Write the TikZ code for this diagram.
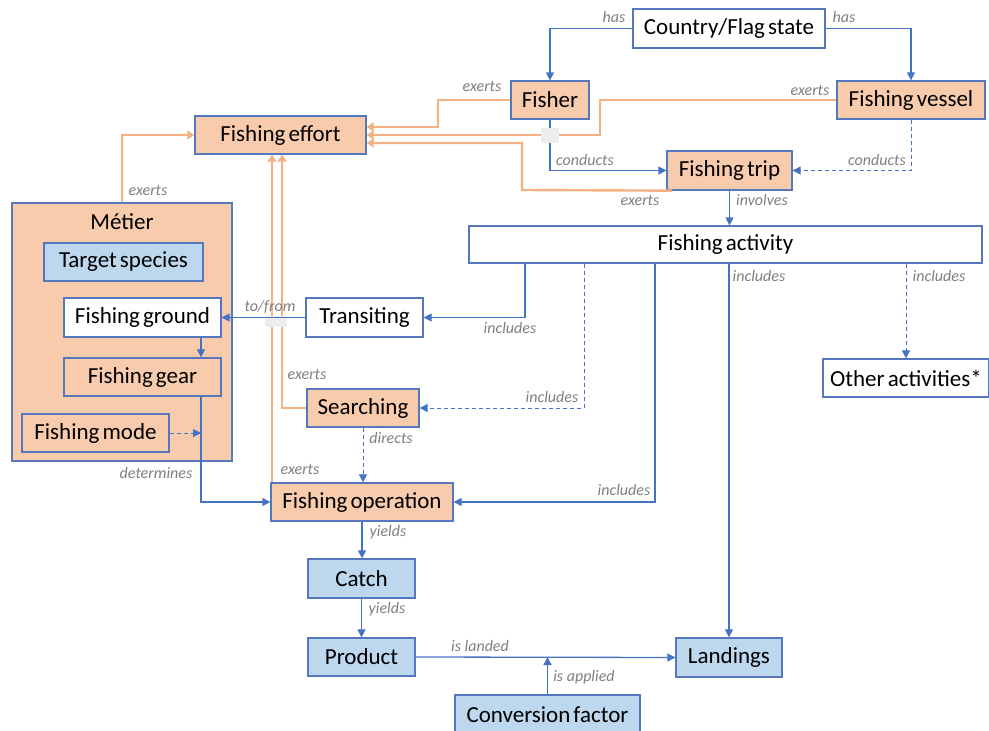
\documentclass[tikz,border=0pt]{standalone}
\usepackage{fontspec}
\setmainfont{Carlito}[WordSpace=0.6]
\newfontfamily\labfont{Carlito}
\usetikzlibrary{arrows.meta}
\definecolor{ofill}{HTML}{F8CBAD}
\definecolor{bfill}{HTML}{BDD7EE}
\definecolor{bordc}{HTML}{5578BC}
\definecolor{bline}{HTML}{4472C4}
\definecolor{oline}{HTML}{F4B183}
\definecolor{labgray}{HTML}{7F7F7F}
\definecolor{patchc}{HTML}{EDEDED}
\tikzset{
  box/.style={draw=bordc, line width=1.3pt, inner sep=0pt, minimum height=38,
    font=\fontsize{23}{25}\selectfont, text=black, align=center},
  obox/.style={box, fill=ofill},
  bbox/.style={box, fill=bfill},
  wbox/.style={box, fill=white},
  lab/.style={font=\labfont\fontsize{16}{18}\selectfont\itshape, text=labgray, inner sep=0pt},
  barrow/.style={draw=bline, line width=1.3pt, -{Triangle[length=8pt,width=8pt]}},
  bdash/.style={barrow, line width=1pt, dash pattern=on 4pt off 3pt},
  oarrow/.style={draw=oline, line width=2.4pt, -{Triangle[length=7pt,width=9pt]}},
  patch/.style={fill=patchc}
}
\begin{document}
\begin{tikzpicture}[x=1pt,y=-1pt]
\useasboundingbox (0,0) rectangle (989,731);

% Metier container
\node[obox, minimum width=220, minimum height=258] (metier) at (122,332) {};
\node[font=\fontsize{23}{25}\selectfont, inner sep=0pt] (metiertitle) at (122,222) {Métier};

% nodes
\node[wbox, minimum width=192, minimum height=39] (country) at (729,28.5) {Country/Flag state};
\node[obox, minimum width=78] (fisher) at (550,100) {Fisher};
\node[obox, minimum width=148] (vessel) at (911,100) {Fishing vessel};
\node[obox, minimum width=171] (effort) at (280.5,135) {Fishing effort};
\node[obox, minimum width=125, minimum height=39] (trip) at (729.5,170.5) {Fishing trip};
\node[wbox, minimum width=513, minimum height=37] (activity) at (725.5,244.5) {Fishing activity};
\node[bbox, minimum width=159] (target) at (123.5,262) {Target species};
\node[wbox, minimum width=157, minimum height=39] (ground) at (142.5,317.5) {Fishing ground};
\node[obox, minimum width=157] (gear) at (142.5,377) {Fishing gear};
\node[obox, minimum width=147] (mode) at (95.5,433) {Fishing mode};
\node[wbox, minimum width=117, minimum height=39] (transit) at (364.5,317.5) {Transiting};
\node[obox, minimum width=112] (search) at (363,408) {Searching};
\node[wbox, minimum width=166] (other) at (906,378) {Other activities*};
\node[obox, minimum width=182] (operation) at (362,502) {Fishing operation};
\node[bbox, minimum width=107, minimum height=39] (catch) at (361.5,578.5) {Catch};
\node[bbox, minimum width=107] (product) at (361.5,657) {Product};
\node[bbox, minimum width=106, minimum height=39] (landings) at (729,657.5) {Landings};
\node[bbox, minimum width=185, minimum height=40] (conv) at (547.5,715) {Conversion factor};

% orange connectors (exerts)
\draw[oarrow] (fisher.west) -| (438,127) -- (effort.east |- 0,127);
\draw[oarrow] (vessel.west) -| (600,135) -- (effort.east);
\draw[oarrow] ([xshift=6pt]trip.south west) -- (522,190) |- (effort.east |- 0,143);
\draw[oarrow] (metier.north) |- (effort.west);
\draw[oarrow] (272,0 |- operation.north) -- (272,0 |- effort.south);
\draw[oarrow] (search.west) -| (282,0 |- effort.south);

\fill[patch] (265,316) rectangle (287,327);

% blue connectors
\draw[barrow] (country.west) -| (fisher.north);
\draw[barrow] (country.east) -| (vessel.north);
\draw[barrow] (fisher.south) |- (trip.west);
\draw[bdash] (vessel.south) |- (trip.east);
\draw[barrow] (trip.south) -- (trip.south |- activity.north);
\draw[barrow] (525,0 |- activity.south) |- (transit.east);
\draw[bdash] (584,0 |- activity.south) |- (search.east);
\draw[barrow] (655,0 |- activity.south) |- (operation.east);
\draw[barrow] (landings.north |- activity.south) -- (landings.north);
\draw[bdash] (other.north |- activity.south) -- (other.north);
\draw[barrow] (transit.west) -- (ground.east);
\draw[barrow] (201,0 |- ground.south) -- (201,0 |- gear.north);
\draw[barrow] (201,0 |- gear.south) |- (operation.west);
\coordinate (mjoin) at (201,433);
\draw[bdash] (mode.east) -- (mjoin);
\draw[bdash] (search.south) -- (search.south |- operation.north);
\draw[barrow] (operation.south) -- (operation.south |- catch.north);
\draw[barrow] (catch.south) -- (product.north);
\draw[barrow] (product.east) -- (landings.west);
\draw[barrow] (conv.north) -- (conv.north |- product.east);

\fill[patch] (541,128) rectangle (559,143);

% labels
\node[lab] (l1) at (614,17) {has};
\node[lab] (l2) at (844,17) {has};
\node[lab] (l3) at (482,86) {exerts};
\node[lab] (l4) at (810,90) {exerts};
\node[lab] (l5) at (585,160) {conducts};
\node[lab] (l6) at (877,160) {conducts};
\node[lab] (l7) at (640,200) {exerts};
\node[lab] (l8) at (762,200) {involves};
\node[lab] (l9) at (148,190) {exerts};
\node[lab] (l10) at (270,307) {to/from};
\node[lab] (l11) at (510,328) {includes};
\node[lab] (l12) at (552,397) {includes};
\node[lab] (l13) at (624,490) {includes};
\node[lab] (l14) at (759,276) {includes};
\node[lab] (l15) at (939,276) {includes};
\node[lab] (l16) at (307,374) {exerts};
\node[lab] (l17) at (300,469) {exerts};
\node[lab] (l18) at (156,473) {determines};
\node[lab] (l19) at (391,438) {directs};
\node[lab] (l20) at (388,532) {yields};
\node[lab] (l21) at (387,609) {yields};
\node[lab] (l22) at (480,646) {is landed};
\node[lab] (l23) at (584,677) {is applied};
\end{tikzpicture}
\end{document}
